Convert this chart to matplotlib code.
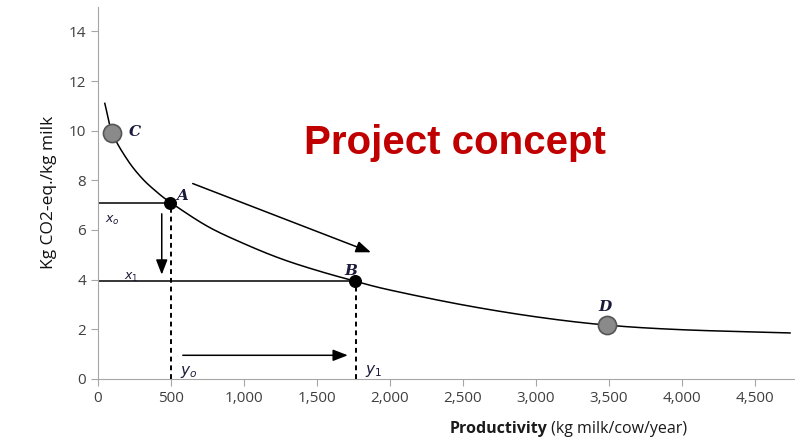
import matplotlib.pyplot as plt
import numpy as np

# curve
curve_x = [48, 100, 200, 300, 400, 500, 750, 1000, 1250, 1500, 1760, 2000, 2500, 3000, 3480, 4000, 4740]
curve_y = [11.1, 9.9, 8.85, 8.1, 7.55, 7.1, 6.15, 5.45, 4.85, 4.37, 3.94, 3.58, 2.98, 2.5, 2.17, 1.98, 1.85]

point_names = ["A", "B"]
point_x = [493, 1760]
point_y = [7.1, 3.94]

grey_names = ["C", "D"]
grey_x = [96, 3486]
grey_y = [9.9, 2.17]

xticks = [0, 500, 1000, 1500, 2000, 2500, 3000, 3500, 4000, 4500]
yticks = [0, 2, 4, 6, 8, 10, 12, 14]


def catmull_rom(px, py, n=30):
    px = np.asarray(px, float)
    py = np.asarray(py, float)
    px = np.concatenate([[2 * px[0] - px[1]], px, [2 * px[-1] - px[-2]]])
    py = np.concatenate([[2 * py[0] - py[1]], py, [2 * py[-1] - py[-2]]])
    out_x, out_y = [], []
    t = np.linspace(0, 1, n, endpoint=False)
    for i in range(1, len(px) - 2):
        for arr, out in ((px, out_x), (py, out_y)):
            p0, p1, p2, p3 = arr[i - 1:i + 3]
            out.extend(0.5 * (2 * p1 + (-p0 + p2) * t + (2 * p0 - 5 * p1 + 4 * p2 - p3) * t ** 2
                              + (-p0 + 3 * p1 - 3 * p2 + p3) * t ** 3))
    out_x.append(px[-2])
    out_y.append(py[-2])
    return out_x, out_y


fig = plt.figure(figsize=(7.95, 4.38), dpi=100)
ax = fig.add_axes([0.123, 0.135, 0.877, 0.85])
ax.set_xlim(0, 4774)
ax.set_ylim(0, 15)

cx, cy = catmull_rom(curve_x, curve_y)
ax.plot(cx, cy, color="black", lw=1.1, zorder=3)

# guide lines
ax.plot([0, point_x[0]], [point_y[0]] * 2, color="black", lw=1.1)
ax.plot([0, point_x[1]], [point_y[1]] * 2, color="black", lw=1.1)
for px, py in zip(point_x, point_y):
    ax.plot([px + 10, px + 10], [0, py], color="black", lw=1.4, ls=(0, (2.5, 2)))

# arrows
arr = dict(arrowstyle="-|>,head_length=0.9,head_width=0.35", color="black", lw=1.1,
           shrinkA=0, shrinkB=0)
ax.annotate("", xy=(438, 4.2), xytext=(438, 6.65), arrowprops=arr)
ax.annotate("", xy=(1712, 0.95), xytext=(582, 0.95), arrowprops=arr)
ax.annotate("", xy=(1870, 5.1), xytext=(650, 7.87), arrowprops=arr)

# points
ax.scatter(point_x, point_y, s=70, color="black", zorder=5)
ax.scatter(grey_x, grey_y, s=170, color="#8a8a8a", edgecolor="#555555", lw=1.2, zorder=5)

lab = dict(fontfamily="DejaVu Serif", fontstyle="italic", fontweight="bold", color="#1a1a3a")
ax.text(540, 7.2, "A", fontsize=11, **lab)
ax.text(1690, 4.2, "B", fontsize=11, **lab)
ax.text(215, 9.8, "C", fontsize=11, **lab)
ax.text(3430, 2.75, "D", fontsize=11, **lab)
ax.text(50, 6.3, "$x_o$", fontsize=9, color="#1a1a3a")
ax.text(180, 4.0, "$x_1$", fontsize=9, color="#1a1a3a")
ax.text(560, 0.15, "$y_o$", fontsize=11, color="#1a1a3a")
ax.text(1830, 0.2, "$y_1$", fontsize=11, color="#1a1a3a")

ax.text(0.512, 0.634, "Project concept", transform=ax.transAxes, ha="center", va="center",
        fontsize=29, fontweight="bold", color="#c00000",
        fontfamily=["Liberation Sans", "DejaVu Sans"])

# axes styling
for s in ["top", "right"]:
    ax.spines[s].set_visible(False)
for s in ["left", "bottom"]:
    ax.spines[s].set_color("#a6a6a6")
ax.set_xticks(xticks)
ax.set_xticklabels([f"{v:,}" for v in xticks])
ax.set_yticks(yticks)
ax.tick_params(colors="#a6a6a6", labelcolor="#404040", labelsize=11, length=5)
for t in ax.get_xticklabels() + ax.get_yticklabels():
    t.set_fontfamily("Open Sans")

ax.set_ylabel("Kg CO2-eq./kg milk", fontsize=12.5, fontfamily="Open Sans",
              color="#111111", labelpad=8)

t1 = fig.text(0.565, 0.012, "Productivity", fontsize=11.5, fontweight="bold",
              fontfamily="Open Sans", color="#1a1a1a")
ax.annotate(" (kg milk/cow/year)", xy=(1, 0), xycoords=t1, va="bottom",
            fontsize=11.5, fontfamily="Open Sans", color="#1a1a1a")

fig.savefig("out.png", dpi=100)
